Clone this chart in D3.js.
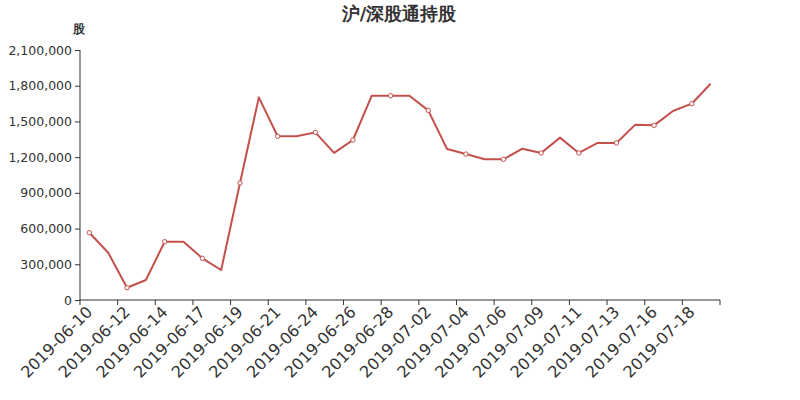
<!DOCTYPE html>
<html><head><meta charset="utf-8">
<script src="https://cdn.jsdelivr.net/npm/d3@7/dist/d3.min.js"></script>
<style>body{margin:0;background:#fff}svg{display:block;font-family:"DejaVu Sans",sans-serif}</style>
</head><body><svg id="c" width="800" height="400"></svg>
<script>
const dates = ["2019-06-10","2019-06-11","2019-06-12","2019-06-13","2019-06-14","2019-06-15","2019-06-17","2019-06-18","2019-06-19","2019-06-20","2019-06-21","2019-06-22","2019-06-24","2019-06-25","2019-06-26","2019-06-27","2019-06-28","2019-06-29","2019-07-02","2019-07-03","2019-07-04","2019-07-05","2019-07-06","2019-07-08","2019-07-09","2019-07-10","2019-07-11","2019-07-12","2019-07-13","2019-07-15","2019-07-16","2019-07-17","2019-07-18","2019-07-19"];
const holdings = [565000,397000,103000,168000,490000,490000,350000,252000,983000,1702000,1375000,1375000,1408000,1236000,1344000,1716000,1716000,1716000,1593000,1268000,1226000,1182000,1182000,1271000,1235000,1364000,1235000,1319000,1319000,1473000,1467000,1588000,1649000,1817000];
const yTicks = [0,300000,600000,900000,1200000,1500000,1800000,2100000];
const title = "沪/深股通持股";
const unit = "股";

const svg = d3.select("#c");
const L=80,R=720,T=50,B=300;
const color = "#c4504b";
const x = d3.scaleBand().domain(dates).range([L,R]);
const y = d3.scaleLinear().domain([0,2100000]).range([B,T]);
const fmt = d3.format(",");

svg.append("text").attr("x",399).attr("y",20).attr("text-anchor","middle")
  .attr("font-size",18).attr("font-weight","bold").attr("fill","#333").text(title);
svg.append("text").attr("x",79).attr("y",33).attr("text-anchor","middle")
  .attr("font-size",12).attr("font-weight","bold").attr("fill","#333").text(unit);

// y axis
const ya = svg.append("g").attr("transform",`translate(${L},0)`)
  .call(d3.axisLeft(y).tickValues(yTicks).tickFormat(fmt).tickSize(5).tickPadding(3));
ya.select(".domain").attr("stroke","#333").attr("d",`M-0,${T}V${B}`);
ya.selectAll(".tick line").attr("stroke","#333");
ya.selectAll(".tick text").attr("fill","#333").attr("font-size",12.5).attr("font-family","DejaVu Sans");

// x axis
const xa = svg.append("g").attr("transform",`translate(0,${B})`);
xa.append("line").attr("x1",L).attr("x2",R).attr("stroke","#333");
const tickIdx = d3.range(0,dates.length+1,2);
xa.selectAll("line.t").data(tickIdx).join("line").attr("class","t")
  .attr("x1",i=>i<dates.length?x(dates[i]):R).attr("x2",i=>i<dates.length?x(dates[i]):R)
  .attr("y1",0).attr("y2",5).attr("stroke","#333");
xa.selectAll("text").data(dates.filter((d,i)=>i%2===0)).join("text")
  .attr("transform",d=>`translate(${x(d)+x.bandwidth()/2},9) rotate(-45)`)
  .attr("text-anchor","end").attr("dy","0.35em")
  .attr("font-size",16).attr("fill","#333").text(d=>d);

// line
const line = d3.line().x((d,i)=>x(dates[i])+x.bandwidth()/2).y(d=>y(d));
svg.append("path").datum(holdings).attr("d",line).attr("fill","none")
  .attr("stroke",color).attr("stroke-width",2).attr("stroke-linejoin","round");
svg.selectAll("circle.p").data(holdings.map((v,i)=>[i,v]).filter(d=>d[0]%2===0)).join("circle")
  .attr("class","p").attr("cx",d=>x(dates[d[0]])+x.bandwidth()/2).attr("cy",d=>y(d[1]))
  .attr("r",2.2).attr("fill","#fff").attr("stroke",color).attr("stroke-width",1);
</script></body></html>
